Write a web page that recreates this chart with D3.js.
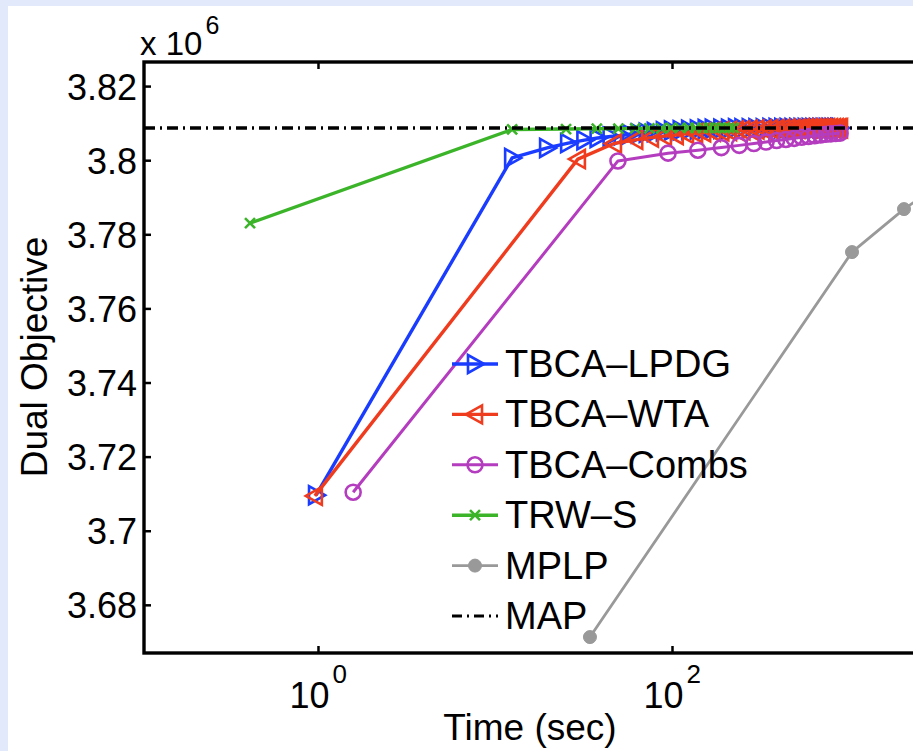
<!DOCTYPE html>
<html>
<head>
<meta charset="utf-8">
<script src="https://cdn.jsdelivr.net/npm/d3@7"></script>
<style>
html,body{margin:0;padding:0;background:#e1e9fb;overflow:hidden;}
svg{display:block;}
text{font-family:"Liberation Sans",Arial,Helvetica,sans-serif;fill:#000;}
</style>
</head>
<body>
<svg id="chart" width="913" height="751"></svg>
<script>
// ---------------- data (dual objective in units of 10^6) ----------------
const seriesNames = ["TBCA–LPDG","TBCA–WTA","TBCA–Combs","TRW–S","MPLP","MAP"];

const lpdgTime = [0.975,12.5,19.7,25.9,32,38,45,52,58,65,72,80,90,100,112,125,140,155,170,190,210,230,250,275,300,330,360,390,420,450,480,510,540,570,600,630,660,690,720,750,780,810,840,870,890];
const lpdgValue = [3.7096,3.8006,3.8033,3.8046,3.8054,3.8060,3.8064,3.8067,3.8070,3.8072,3.8074,3.8076,3.8078,3.8080,3.8081,3.8082,3.8083,3.8084,3.8085,3.8085,3.8085,3.8086,3.8086,3.8086,3.8086,3.8086,3.8087,3.8087,3.8087,3.8087,3.8087,3.8087,3.8087,3.8087,3.8087,3.8087,3.8087,3.8087,3.8087,3.8087,3.8087,3.8087,3.8087,3.8087,3.8087];

const wtaTime = [0.96,29.4,47,62,76,90,105,120,135,150,170,190,210,230,250,275,300,330,360,390,420,450,480,510,540,570,600,630,660,690,720,750,780,810,840,870,890];
const wtaValue = [3.7094,3.8003,3.8045,3.8055,3.8061,3.8065,3.8068,3.8071,3.8073,3.8075,3.8077,3.8078,3.8079,3.8080,3.8081,3.8082,3.8083,3.8083,3.8084,3.8084,3.8085,3.8085,3.8085,3.8085,3.8086,3.8086,3.8086,3.8086,3.8086,3.8086,3.8086,3.8086,3.8086,3.8086,3.8086,3.8086,3.8086];

const combsTime = [1.58,49.5,95,140,190,240,290,340,390,440,490,540,590,640,690,740,790,840,890];
const combsValue = [3.7104,3.7998,3.8019,3.8027,3.8034,3.8040,3.8045,3.8049,3.8053,3.8056,3.8059,3.8062,3.8064,3.8066,3.8068,3.8070,3.8071,3.8072,3.8073];

const trwsTime = [0.413,12.5,25.2,37.6,49.8,62,74.5,87,99,111,124,136,149,161,174,186,198,211,223];
const trwsValue = [3.7830,3.8083,3.8084,3.8085,3.8085,3.8086,3.8086,3.8086,3.8087,3.8087,3.8087,3.8087,3.8087,3.8087,3.8087,3.8087,3.8087,3.8087,3.8087];

const mplpTime = [34.4,1040,2045,3050];
const mplpValue = [3.6713,3.7752,3.7868,3.7925];

const mapValue = 3.8087;

const xTickValues = [1,100,10000];
const xTickLabelValues = [1,100];
const xTickExponents = ["0","2"];
const yTickValues = [3.68,3.70,3.72,3.74,3.76,3.78,3.80,3.82];
const yTickLabels = ["3.68","3.7","3.72","3.74","3.76","3.78","3.8","3.82"];
const axisLabelX = "Time (sec)";
const axisLabelY = "Dual Objective";
const yScaleLabel = "x 10";
const yScaleExp = "6";

// ---------------- layout ----------------
const colors = {
  lpdg:"#1a3cff", wta:"#f03c1e", combs:"#b43cbe", trws:"#3cb42a", mplp:"#999999", map:"#000000"
};
const svg = d3.select("#chart");
svg.append("rect").attr("x",8).attr("y",6).attr("width",913).attr("height",751).attr("fill","#fff");

const L=144, R=1026, T=62, B=653;
const x = d3.scaleLog().domain([0.104,10000]).range([L,R]);
const y = d3.scaleLinear().domain([3.667,3.8265]).range([B,T]);

svg.append("defs").append("clipPath").attr("id","plotclip")
  .append("rect").attr("x",L).attr("y",T).attr("width",R-L).attr("height",B-T);

const plot = svg.append("g").attr("clip-path","url(#plotclip)");
const line = d3.line().x(d=>x(d[0])).y(d=>y(d[1]));
const zip = (a,b)=>a.map((v,i)=>[v,b[i]]);

// marker drawers
function triRight(g,col){ return g.append("path").attr("d","M9,0L-7,-9L-7,9Z").attr("fill","none").attr("stroke",col).attr("stroke-width",2.6).attr("stroke-linejoin","miter"); }
function triLeft(g,col){ return g.append("path").attr("d","M-9,0L7,-9L7,9Z").attr("fill","none").attr("stroke",col).attr("stroke-width",2.6).attr("stroke-linejoin","miter"); }
function circ(g,col){ return g.append("circle").attr("r",7.5).attr("fill","none").attr("stroke",col).attr("stroke-width",2.6); }
function cross(g,col){ return g.append("path").attr("d","M-5,-5L5,5M-5,5L5,-5").attr("fill","none").attr("stroke",col).attr("stroke-width",2.6); }
function dot(g,col){ return g.append("circle").attr("r",6.5).attr("fill",col).attr("stroke",col).attr("stroke-width",1); }

const series = [
  {name:seriesNames[0], data:zip(lpdgTime,lpdgValue), col:colors.lpdg, mk:triRight, lw:3.4},
  {name:seriesNames[1], data:zip(wtaTime,wtaValue), col:colors.wta, mk:triLeft, lw:3.4},
  {name:seriesNames[2], data:zip(combsTime,combsValue), col:colors.combs, mk:circ, lw:3},
  {name:seriesNames[3], data:zip(trwsTime,trwsValue), col:colors.trws, mk:cross, lw:3.4},
  {name:seriesNames[4], data:zip(mplpTime,mplpValue), col:colors.mplp, mk:dot, lw:2.8}
];

series.forEach(s=>{
  const g = plot.append("g");
  g.append("path").datum(s.data).attr("d",line).attr("fill","none")
    .attr("stroke",s.col).attr("stroke-width",s.lw).attr("stroke-linejoin","round");
  s.data.forEach(d=>{
    const m = g.append("g").attr("transform",`translate(${x(d[0])},${y(d[1])})`);
    s.mk(m,s.col);
  });
});

// MAP dash-dot line
plot.append("path").datum([[x.domain()[0],mapValue],[x.domain()[1],mapValue]])
  .attr("d",line).attr("fill","none").attr("stroke",colors.map).attr("stroke-width",3.4)
  .attr("stroke-dasharray","11,5,2,5");

// ---------------- axes ----------------
const fs = 36;
const yAxis = d3.axisLeft(y).tickValues(yTickValues).tickSizeInner(-7).tickSizeOuter(0).tickPadding(7)
  .tickFormat((d,i)=>yTickLabels[i]);
const gy = svg.append("g").attr("transform",`translate(${L},0)`).call(yAxis);
gy.select(".domain").remove();
gy.selectAll(".tick line").attr("stroke","#000").attr("stroke-width",2.5);
gy.selectAll(".tick text").attr("font-size",fs).attr("font-family","Liberation Sans, Arial, sans-serif").attr("dy","0.36em");

const xAxisB = d3.axisBottom(x).tickValues(xTickValues).tickSizeInner(-7).tickSizeOuter(0).tickFormat("");
const gx = svg.append("g").attr("transform",`translate(0,${B})`).call(xAxisB);
gx.select(".domain").remove();
gx.selectAll(".tick line").attr("stroke","#000").attr("stroke-width",2.5);

// x tick labels (10^k) for visible decades
const xl = svg.append("g");
xTickLabelValues.forEach((v,i)=>{
  const t = xl.append("text").attr("x",x(v)+29).attr("y",708).attr("text-anchor","end").attr("font-size",fs).text("10");
  t.append("tspan").attr("font-size",26).attr("dy","-0.95em").attr("dx","3").text(xTickExponents[i]);
});

const xAxisT = d3.axisTop(x).tickValues(xTickValues).tickSizeInner(-7).tickSizeOuter(0).tickFormat("");
const gxt = svg.append("g").attr("transform",`translate(0,${T})`).call(xAxisT);
gxt.select(".domain").remove();
gxt.selectAll(".tick line").attr("stroke","#000").attr("stroke-width",2.5);

// box
svg.append("rect").attr("x",L).attr("y",T).attr("width",R-L).attr("height",B-T)
  .attr("fill","none").attr("stroke","#000").attr("stroke-width",3.4);

// axis labels
svg.append("text").attr("x",530).attr("y",740).attr("text-anchor","middle").attr("font-size",37).text(axisLabelX);
svg.append("text").attr("transform","translate(47,357) rotate(-90)").attr("text-anchor","middle").attr("font-size",37).text(axisLabelY);
const sc = svg.append("text").attr("x",140).attr("y",55).attr("font-size",33).text(yScaleLabel);
sc.append("tspan").attr("font-size",25).attr("dy","-0.85em").attr("dx","3").text(yScaleExp);

// ---------------- legend ----------------
const leg = svg.append("g");
const legX0 = 452, legX1 = 498, legTextX = 505, legY0 = 364, legDY = 50.4;
const legItems = series.concat([{name:seriesNames[5], col:colors.map, mk:null, lw:3, dash:"10,5,2,5"}]);
legItems.forEach((s,i)=>{
  const yy = legY0 + i*legDY;
  const g = leg.append("g");
  g.append("line").attr("x1",legX0).attr("x2",legX1).attr("y1",yy).attr("y2",yy)
    .attr("stroke",s.col).attr("stroke-width",s.lw).attr("stroke-dasharray",s.dash||null);
  if(s.mk){ const m = g.append("g").attr("transform",`translate(${(legX0+legX1)/2},${yy})`); s.mk(m,s.col); }
  g.append("text").attr("x",legTextX).attr("y",yy+13).attr("font-size",38).text(s.name);
});
</script>
</body>
</html>
